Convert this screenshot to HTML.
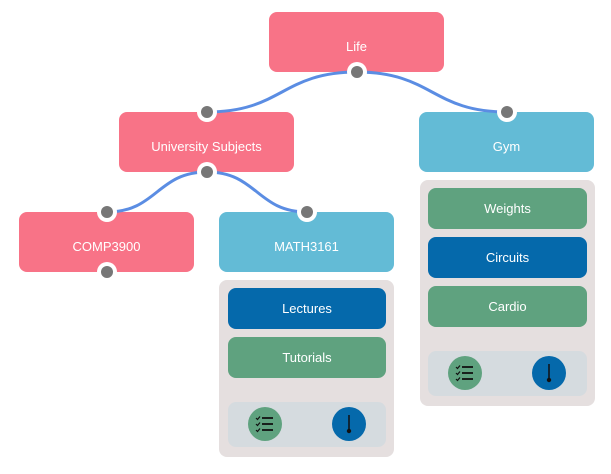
<!DOCTYPE html>
<html><head><style>
body{margin:0;background:#fff;width:611px;height:474px;overflow:hidden;font-family:"Liberation Sans",sans-serif;}
svg{position:absolute;left:0;top:0}
.n{position:absolute;border-radius:8px;color:#fff;font-size:13px;display:flex;align-items:center;justify-content:center;box-sizing:border-box}
.m{padding-top:8px}
.p{background:#f87387}.b{background:#63bbd6}.d{background:#0569ab}.g{background:#5fa27f}
.panel{position:absolute;background:#e5dfdf;border-radius:8px}
.bar{position:absolute;background:#d5dbdf;border-radius:8px}
</style></head><body>
<div class="n p m" style="left:269px;top:12px;width:175px;height:60px">Life</div>
<div class="n p m" style="left:119px;top:112px;width:175px;height:60px">University Subjects</div>
<div class="n b m" style="left:419px;top:112px;width:175px;height:60px">Gym</div>
<div class="n p m" style="left:19px;top:212px;width:175px;height:60px">COMP3900</div>
<div class="n b m" style="left:219px;top:212px;width:175px;height:60px">MATH3161</div>

<div class="panel" style="left:219px;top:280px;width:175px;height:177px"></div>
<div class="n d" style="left:228px;top:288px;width:158px;height:41px">Lectures</div>
<div class="n g" style="left:228px;top:337px;width:158px;height:41px">Tutorials</div>
<div class="bar" style="left:228px;top:402px;width:158px;height:45px"></div>

<div class="panel" style="left:420px;top:180px;width:175px;height:226px"></div>
<div class="n g" style="left:428px;top:188px;width:159px;height:41px">Weights</div>
<div class="n d" style="left:428px;top:237px;width:159px;height:41px">Circuits</div>
<div class="n g" style="left:428px;top:286px;width:159px;height:41px">Cardio</div>
<div class="bar" style="left:428px;top:351px;width:159px;height:45px"></div>

<svg width="611" height="474">
<g fill="none" stroke="#5b8de3" stroke-width="3">
<path d="M357 72 C432 72 432 112 507 112"/>
<path d="M357 72 C282 72 282 112 207 112"/>
<path d="M207 172 C157 172 157 212 107 212"/>
<path d="M207 172 C257 172 257 212 307 212"/>
</g>
<g>
<circle cx="357" cy="72" r="10" fill="#fff"/><circle cx="357" cy="72" r="6" fill="#777"/>
<circle cx="207" cy="112" r="10" fill="#fff"/><circle cx="207" cy="112" r="6" fill="#777"/>
<circle cx="507" cy="112" r="10" fill="#fff"/><circle cx="507" cy="112" r="6" fill="#777"/>
<circle cx="207" cy="172" r="10" fill="#fff"/><circle cx="207" cy="172" r="6" fill="#777"/>
<circle cx="107" cy="212" r="10" fill="#fff"/><circle cx="107" cy="212" r="6" fill="#777"/>
<circle cx="307" cy="212" r="10" fill="#fff"/><circle cx="307" cy="212" r="6" fill="#777"/>
<circle cx="107" cy="272" r="10" fill="#fff"/><circle cx="107" cy="272" r="6" fill="#777"/>
</g>
<g>
<circle cx="265" cy="424" r="17" fill="#5fa27f"/>
<g stroke="#111" stroke-width="1.8"><line x1="262" y1="418" x2="273" y2="418"/><line x1="262" y1="424" x2="273" y2="424"/><line x1="262" y1="430" x2="273" y2="430"/></g>
<g stroke="#111" stroke-width="1.2" fill="none"><path d="M256 418l1.5 1.5 2.5-3"/><path d="M256 424l1.5 1.5 2.5-3"/><path d="M256 430l1.5 1.5 2.5-3"/></g>
<circle cx="349" cy="424" r="17" fill="#0569ab"/>
<line x1="349" y1="415" x2="349" y2="430" stroke="#111" stroke-width="1.5"/><circle cx="349" cy="431" r="2.2" fill="#111"/>
</g>
<g transform="translate(200,-51)">
<circle cx="265" cy="424" r="17" fill="#5fa27f"/>
<g stroke="#111" stroke-width="1.8"><line x1="262" y1="418" x2="273" y2="418"/><line x1="262" y1="424" x2="273" y2="424"/><line x1="262" y1="430" x2="273" y2="430"/></g>
<g stroke="#111" stroke-width="1.2" fill="none"><path d="M256 418l1.5 1.5 2.5-3"/><path d="M256 424l1.5 1.5 2.5-3"/><path d="M256 430l1.5 1.5 2.5-3"/></g>
<circle cx="349" cy="424" r="17" fill="#0569ab"/>
<line x1="349" y1="415" x2="349" y2="430" stroke="#111" stroke-width="1.5"/><circle cx="349" cy="431" r="2.2" fill="#111"/>
</g>
</svg>
</body></html>
